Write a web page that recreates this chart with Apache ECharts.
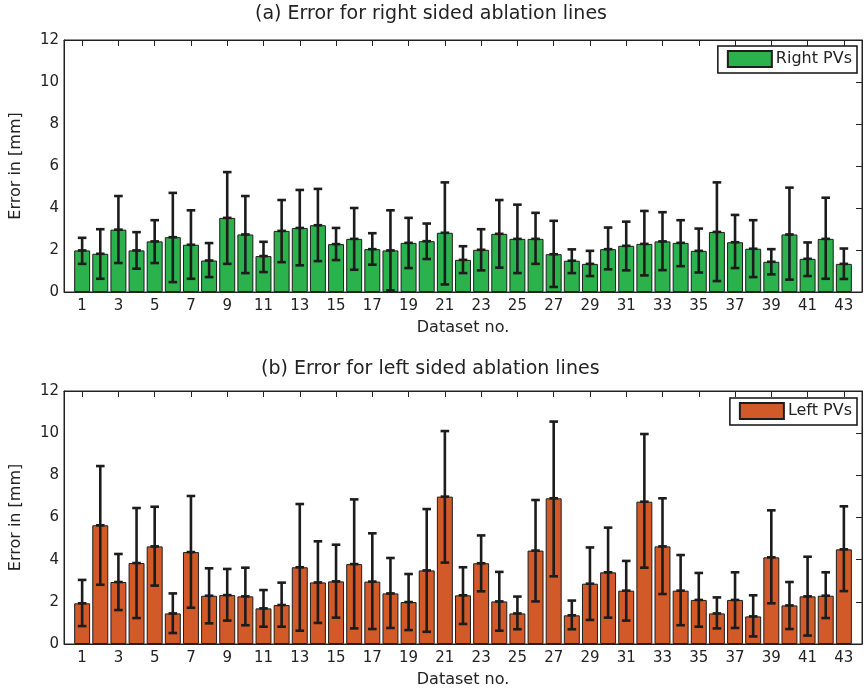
<!DOCTYPE html>
<html>
<head>
<meta charset="utf-8">
<script src="https://cdn.jsdelivr.net/npm/echarts@6/dist/echarts.min.js"></script>
<style>
  html, body { margin: 0; padding: 0; background: #fff; }
  #main { width: 864px; height: 695px; }
</style>
</head>
<body>
<div id="main"></div>
<script>
// datasets 1..43
const datasets = [];
for (let i = 1; i <= 43; i++) datasets.push(String(i));

// (a) right PVs: mean, lower and upper end of error bar
const rightMean = [1.98, 1.82, 2.97, 1.98, 2.41, 2.61, 2.25, 1.50, 3.53, 2.74, 1.71, 2.91, 3.05, 3.18, 2.28, 2.53, 2.04, 1.98, 2.34, 2.42, 2.82, 1.53, 2.01, 2.77, 2.53, 2.53, 1.80, 1.49, 1.34, 2.04, 2.20, 2.29, 2.41, 2.34, 1.96, 2.86, 2.37, 2.06, 1.44, 2.74, 1.58, 2.53, 1.34];
const rightLow = [1.34, 0.63, 1.38, 1.11, 1.38, 0.47, 0.63, 0.71, 1.34, 0.90, 0.95, 1.42, 1.27, 1.47, 1.52, 1.06, 1.30, 0.08, 1.14, 1.57, 0.36, 0.90, 1.03, 1.16, 0.90, 1.34, 0.24, 0.90, 0.76, 1.08, 1.03, 0.79, 1.04, 1.23, 0.93, 0.52, 1.14, 0.71, 0.84, 0.59, 0.76, 0.63, 0.62];
const rightHigh = [2.58, 2.99, 4.57, 2.85, 3.42, 4.72, 3.89, 2.33, 5.71, 4.57, 2.39, 4.38, 4.86, 4.91, 3.05, 4.00, 2.80, 3.89, 3.53, 3.26, 5.22, 2.18, 2.99, 4.38, 4.16, 3.77, 3.39, 2.03, 1.96, 3.07, 3.35, 3.86, 3.80, 3.42, 3.02, 5.22, 3.67, 3.42, 2.04, 4.97, 2.36, 4.49, 2.07];

// (b) left PVs
const leftMean = [1.93, 5.63, 2.94, 3.84, 4.63, 1.45, 4.36, 2.29, 2.32, 2.26, 1.69, 1.85, 3.64, 2.92, 2.97, 3.79, 2.96, 2.40, 1.99, 3.49, 6.99, 2.31, 3.83, 2.02, 1.45, 4.43, 6.91, 1.36, 2.86, 3.40, 2.53, 6.75, 4.63, 2.53, 2.09, 1.45, 2.09, 1.31, 4.11, 1.83, 2.26, 2.29, 4.49];
const leftLow = [0.85, 2.81, 1.61, 1.23, 2.77, 0.52, 1.72, 0.98, 1.11, 0.89, 0.82, 0.82, 0.63, 1.00, 1.25, 0.74, 0.71, 0.76, 0.66, 0.58, 3.86, 0.95, 2.50, 0.63, 0.70, 2.02, 3.21, 0.70, 1.14, 1.25, 1.11, 3.62, 2.37, 0.89, 0.82, 0.74, 0.76, 0.36, 1.93, 0.71, 0.40, 1.23, 2.51];
const leftHigh = [3.04, 8.44, 4.27, 6.45, 6.51, 2.40, 7.02, 3.59, 3.56, 3.62, 2.56, 2.91, 6.64, 4.87, 4.71, 6.86, 5.25, 4.08, 3.32, 6.40, 10.10, 3.64, 5.15, 3.42, 2.25, 6.83, 10.55, 2.06, 4.58, 5.52, 3.94, 9.96, 6.91, 4.22, 3.37, 2.21, 3.40, 2.31, 6.34, 2.94, 4.14, 3.40, 6.53];

const yTicks = [0, 2, 4, 6, 8, 10, 12];
const xTicks = [1, 3, 5, 7, 9, 11, 13, 15, 17, 19, 21, 23, 25, 27, 29, 31, 33, 35, 37, 39, 41, 43];

// x axis runs from 0 to 44 like in matlab, empty slots at both ends
const cats = [''].concat(datasets).concat(['']);
const padded = arr => [null].concat(arr).concat([null]);
const errData = (lo, hi, m) => lo.map((v, i) => [i + 1, v, hi[i], m[i]]);

const FONT = 'DejaVu Sans';
const TXT = '#222';
const oddOnly = index => index % 2 === 1;

function xAxes(grid) {
  return [
    {
      gridIndex: grid, type: 'category', data: cats, boundaryGap: false,
      name: 'Dataset no.', nameLocation: 'middle', nameGap: 28,
      nameTextStyle: { fontFamily: FONT, fontSize: 16, color: TXT },
      axisLine: { lineStyle: { color: '#222', width: 1 } },
      axisTick: { show: false },
      axisLabel: { interval: oddOnly, fontFamily: FONT, fontSize: 15, color: TXT, margin: 7 },
      splitLine: { show: false }
    },
    {
      // top copy, only for the inward ticks
      gridIndex: grid, type: 'value', min: 0, max: cats.length - 1, position: 'top',
      axisLine: { show: true, onZero: false, lineStyle: { color: '#222', width: 1 } },
      axisTick: { show: true, inside: true, length: 6, customValues: xTicks, lineStyle: { color: '#222', width: 1 } },
      axisLabel: { show: false },
      splitLine: { show: false }
    }
  ];
}

function yAxes(grid) {
  return [
    {
      gridIndex: grid, type: 'value', min: yTicks[0], max: yTicks[yTicks.length - 1], interval: 2,
      name: 'Error in [mm]', nameLocation: 'middle', nameGap: 40,
      nameTextStyle: { fontFamily: FONT, fontSize: 16, color: TXT },
      axisLine: { show: true, onZero: false, lineStyle: { color: '#222', width: 1 } },
      axisTick: { show: false },
      axisLabel: { fontFamily: FONT, fontSize: 15, color: TXT, margin: 5 },
      splitLine: { show: false }
    },
    {
      gridIndex: grid, type: 'value', min: yTicks[0], max: yTicks[yTicks.length - 1], interval: 2, position: 'right',
      axisLine: { show: true, onZero: false, lineStyle: { color: '#222', width: 1 } },
      axisTick: { show: true, inside: true, length: 6, lineStyle: { color: '#222', width: 1 } },
      axisLabel: { show: false },
      splitLine: { show: false }
    }
  ];
}

// error bars: vertical line, caps and a mark at the mean
function renderErr(params, api) {
  const x = api.value(0);
  const lo = api.coord([x, api.value(1)]);
  const hi = api.coord([x, api.value(2)]);
  const mid = api.coord([x, api.value(3)]);
  const w = 4.3;
  const st = { stroke: '#1c1c1c', lineWidth: 2.6 };
  return {
    type: 'group',
    children: [
      { type: 'line', shape: { x1: lo[0], y1: lo[1], x2: hi[0], y2: hi[1] }, style: st },
      { type: 'line', shape: { x1: lo[0] - w, y1: lo[1], x2: lo[0] + w, y2: lo[1] }, style: st },
      { type: 'line', shape: { x1: hi[0] - w, y1: hi[1], x2: hi[0] + w, y2: hi[1] }, style: st },
      { type: 'line', shape: { x1: mid[0] - w, y1: mid[1], x2: mid[0] + w, y2: mid[1] }, style: st }
    ]
  };
}

function legendAt(top, name) {
  return {
    data: [{ name: name, icon: 'rect' }], right: 7, top: top, orient: 'horizontal',
    itemWidth: 44, itemHeight: 16, itemGap: 0,
    borderColor: '#111', borderWidth: 1.5, backgroundColor: '#fff',
    padding: [4, 5, 5, 9],
    textStyle: { fontFamily: FONT, fontSize: 16, color: TXT, padding: [0, 0, 0, -1] },
    selectedMode: false
  };
}

const myChart = echarts.init(document.getElementById('main'));

const option = {
  animation: false,
  title: [
    { text: '(a) Error for right sided ablation lines', left: 255, top: 5, padding: 0,
      textStyle: { fontFamily: FONT, fontSize: 19, fontWeight: 'normal', color: TXT } },
    { text: '(b) Error for left sided ablation lines', left: 261, top: 360, padding: 0,
      textStyle: { fontFamily: FONT, fontSize: 19, fontWeight: 'normal', color: TXT } }
  ],
  legend: [legendAt(46, 'Right PVs'), legendAt(398, 'Left PVs')],
  grid: [
    { left: 61, right: 2, top: 40, height: 252, show: true, borderColor: '#222', borderWidth: 1, backgroundColor: 'transparent' },
    { left: 61, right: 2, top: 391, height: 253, show: true, borderColor: '#222', borderWidth: 1, backgroundColor: 'transparent' }
  ],
  xAxis: xAxes(0).concat(xAxes(1)),
  yAxis: yAxes(0).concat(yAxes(1)),
  series: [
    {
      name: 'Right PVs', type: 'bar', xAxisIndex: 0, yAxisIndex: 0,
      data: padded(rightMean), barWidth: '88%',
      itemStyle: { color: '#2bb24c', borderColor: '#1e1e1e', borderWidth: 1 }
    },
    {
      type: 'custom', xAxisIndex: 0, yAxisIndex: 0, z: 5,
      data: errData(rightLow, rightHigh, rightMean), renderItem: renderErr
    },
    {
      name: 'Left PVs', type: 'bar', xAxisIndex: 2, yAxisIndex: 2,
      data: padded(leftMean), barWidth: '88%',
      itemStyle: { color: '#d25a28', borderColor: '#1e1e1e', borderWidth: 1 }
    },
    {
      type: 'custom', xAxisIndex: 2, yAxisIndex: 2, z: 5,
      data: errData(leftLow, leftHigh, leftMean), renderItem: renderErr
    }
  ]
};

myChart.setOption(option);
</script>
</body>
</html>
